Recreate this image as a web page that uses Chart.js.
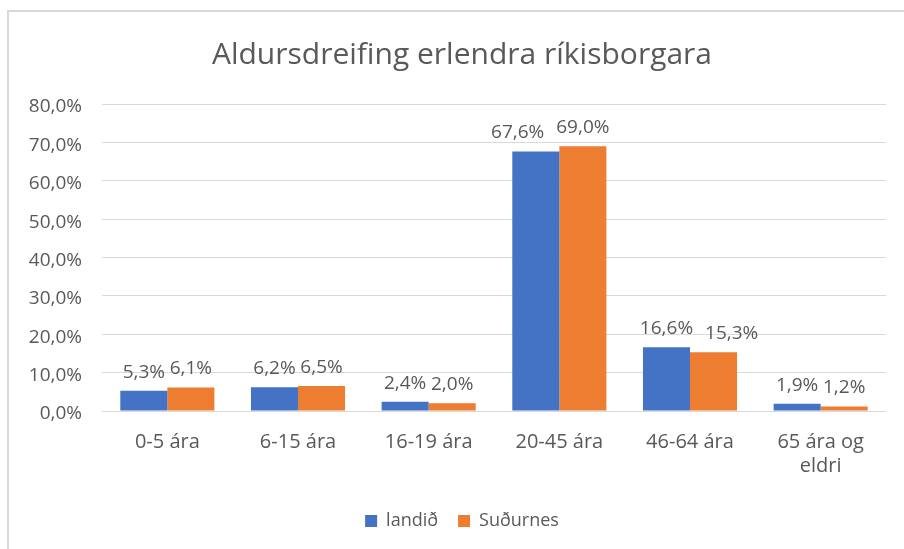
<!DOCTYPE html>
<html>
<head>
<meta charset="utf-8">
<script src="https://cdn.jsdelivr.net/npm/chart.js@4/dist/chart.umd.min.js"></script>
<style>
  html, body { margin: 0; padding: 0; background: #fff; }
  #wrap { position: relative; width: 904px; height: 549px; overflow: hidden; }
  #frame { position: absolute; left: 7px; top: 10px; width: 1000px; height: 1000px;
           border-left: 2px solid #d9d9d9; border-top: 2px solid #d9d9d9; }
  canvas { position: absolute; left: 0; top: 0; }
</style>
</head>
<body>
<div id="wrap">
  <div id="frame"></div>
  <canvas id="c" width="904" height="549"></canvas>
</div>
<script>
const categories = ['0-5 ára', '6-15 ára', '16-19 ára', '20-45 ára', '46-64 ára', ['65 ára og', 'eldri']];
const landid = [5.3, 6.2, 2.4, 67.6, 16.6, 1.9];
const sudurnes = [6.1, 6.5, 2.0, 69.0, 15.3, 1.2];
const seriesNames = ['landið', 'Suðurnes'];
const yTicks = [0, 10, 20, 30, 40, 50, 60, 70, 80];

const TXT = '#595959';
const FONT = "'Open Sans', sans-serif";
const fmt = v => v.toFixed(1).replace('.', ',') + '%';

// Value labels above each bar; if the two labels of one category collide,
// the label of the lower bar is pushed outward (like Excel does).
const dataLabels = {
  id: 'dataLabels',
  afterDatasetsDraw(chart) {
    const ctx = chart.ctx;
    ctx.save();
    ctx.font = "19px 'Open Sans'";
    ctx.fillStyle = TXT;
    ctx.textAlign = 'center';
    ctx.textBaseline = 'bottom';
    const m0 = chart.getDatasetMeta(0), m1 = chart.getDatasetMeta(1);
    const d0 = chart.data.datasets[0].data, d1 = chart.data.datasets[1].data;
    for (let j = 0; j < d0.length; j++) {
      const b0 = m0.data[j], b1 = m1.data[j];
      const t0 = fmt(d0[j]), t1 = fmt(d1[j]);
      const w0 = ctx.measureText(t0).width, w1 = ctx.measureText(t1).width;
      let x0 = b0.x, x1 = b1.x;
      const need = (w0 + w1) / 2 + 12;
      const dist = x1 - x0;
      if (dist < need - 8) {
        const shift = need - dist;
        if (d0[j] < d1[j]) x0 -= shift; else x1 += shift;
      }
      ctx.fillText(t0, x0, b0.y - 9);
      ctx.fillText(t1, x1, b1.y - 9);
    }
    ctx.restore();
  }
};

// Centre title and legend over the whole chart frame (which extends past the
// right edge of the picture), not just the canvas minus padding.
const centreBoxes = {
  id: 'centreBoxes',
  afterLayout(chart) {
    const off = 38;
    if (chart.titleBlock) { chart.titleBlock.left += off; }
    if (chart.legend) { chart.legend.left += off; }
  }
};

new Chart(document.getElementById('c'), {
  type: 'bar',
  data: {
    labels: categories,
    datasets: [
      { label: seriesNames[0], data: landid, backgroundColor: '#4472C4' },
      { label: seriesNames[1], data: sudurnes, backgroundColor: '#ED7D31' }
    ]
  },
  options: {
    responsive: false,
    animation: false,
    devicePixelRatio: 1,
    categoryPercentage: 0.72,
    barPercentage: 1.0,
    layout: { padding: { left: 0, right: 18, top: 0, bottom: 9 } },
    plugins: {
      title: {
        display: true,
        text: 'Aldursdreifing erlendra ríkisborgara',
        color: TXT,
        font: { family: FONT, size: 30, weight: 'normal', lineHeight: 1.2 },
        padding: { top: 37, bottom: 31 }
      },
      legend: {
        position: 'bottom',
        labels: {
          color: TXT,
          font: { family: FONT, size: 18 },
          boxWidth: 12,
          boxHeight: 12,
          padding: 20
        }
      },
      tooltip: { enabled: false }
    },
    scales: {
      x: {
        grid: { display: false, drawTicks: false },
        border: { display: false },
        ticks: {
          color: TXT,
          font: { family: FONT, size: 20, lineHeight: 1.2 },
          padding: 19,
          maxRotation: 0,
          autoSkip: false
        },
        afterFit(scale) { scale.height = 81; }
      },
      y: {
        min: 0,
        max: 80,
        grid: { color: '#d9d9d9', lineWidth: 1, drawTicks: false },
        border: { display: false },
        afterBuildTicks(scale) { scale.ticks = yTicks.map(v => ({ value: v })); },
        ticks: {
          color: TXT,
          font: { family: FONT, size: 19 },
          padding: 20,
          labelOffset: 3,
          callback: v => fmt(v)
        },
        afterFit(scale) { scale.width = 102; }
      }
    }
  },
  plugins: [dataLabels, centreBoxes]
});
</script>
</body>
</html>
